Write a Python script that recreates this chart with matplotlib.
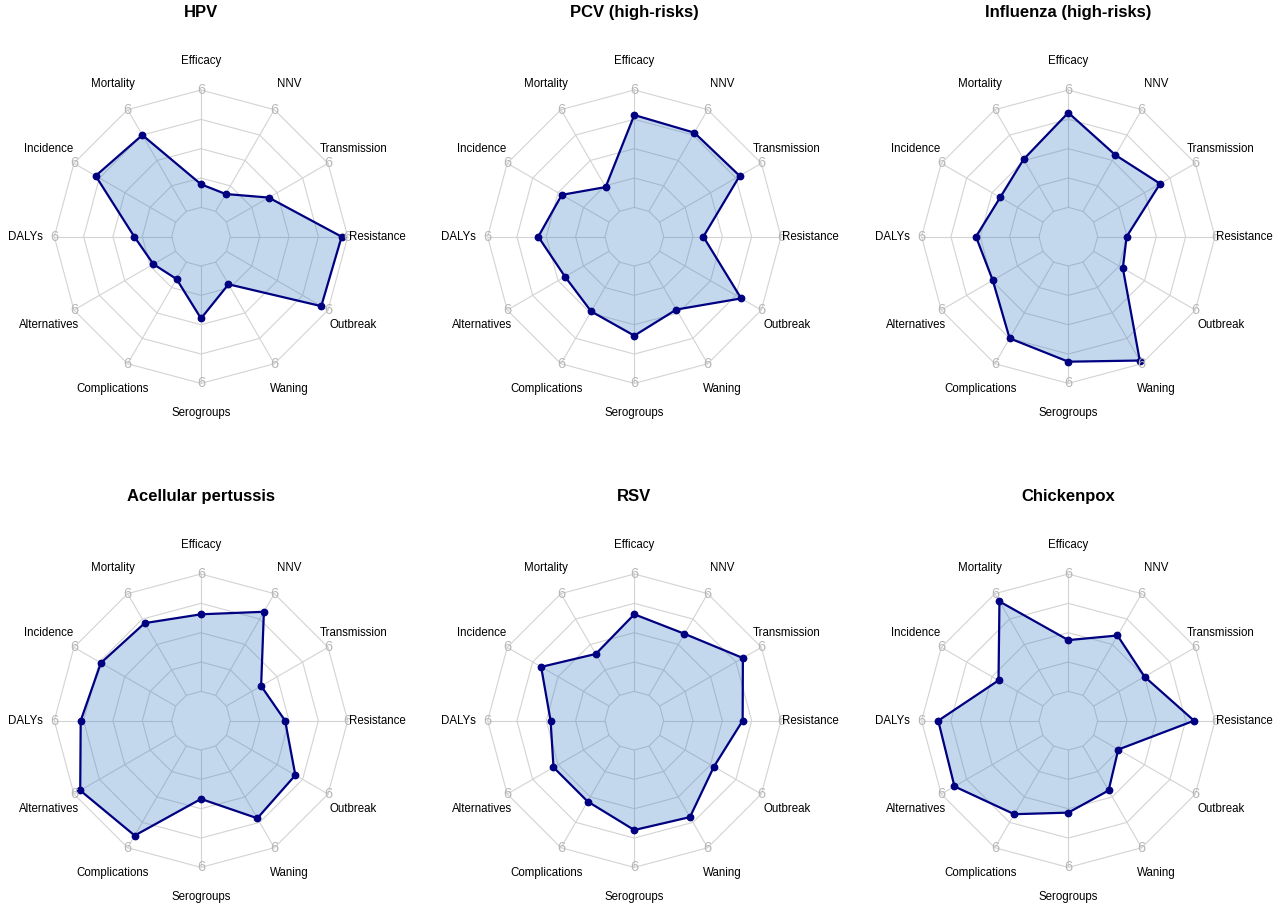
import numpy as np
import matplotlib
matplotlib.use("Agg")
import matplotlib.pyplot as plt

plt.rcParams['font.family'] = ['Liberation Sans', 'DejaVu Sans']

criteria = ["Efficacy", "NNV", "Transmission", "Resistance", "Outbreak", "Waning",
            "Serogroups", "Complications", "Alternatives", "DALYs", "Incidence", "Mortality"]

titles = ["HPV", "PCV (high-risks)", "Influenza (high-risks)",
          "Acellular pertussis", "RSV", "Chickenpox"]

hpv = [1.18, 1.02, 2.5, 5.69, 5.6, 1.31, 2.68, 1.0, 1.31, 1.91, 4.72, 4.5]
pcv = [4.72, 4.64, 4.72, 2.03, 4.81, 2.8, 3.56, 2.91, 2.59, 3.41, 2.78, 1.43]
influenza = [4.84, 3.32, 3.92, 1.48, 1.72, 5.81, 4.89, 4.5, 2.96, 3.22, 2.52, 3.07]
pertussis = [3.94, 4.93, 2.05, 2.8, 4.07, 4.26, 2.5, 5.28, 5.63, 4.65, 4.41, 4.26]
rsv = [3.94, 3.63, 4.91, 4.04, 3.2, 4.19, 4.09, 3.27, 3.27, 2.78, 4.0, 2.44]
chickenpox = [2.62, 3.53, 3.0, 4.93, 1.45, 2.62, 3.2, 4.02, 5.22, 5.15, 2.62, 5.54]

series = [hpv, pcv, influenza, pertussis, rsv, chickenpox]
vmin, vmax = 0, 6

W, H = 1280, 909
R = 146.7  # pixels for outer ring
centers = [(201, 236.7), (634.3, 236.7), (1068.3, 236.7),
           (201, 720.7), (634.3, 720.7), (1068.3, 720.7)]

fig = plt.figure(figsize=(W / 100, H / 100), dpi=100)

n = len(criteria)
ang = np.deg2rad(90 - 360 / n * np.arange(n))
ca, sa = np.cos(ang), np.sin(ang)

def rad(v):
    return 0.2 + 0.8 * (np.asarray(v) - vmin) / (vmax - vmin)

hw, hh = 1.45, 1.6
for (cx, cy), title, vals in zip(centers, titles, series):
    ax = fig.add_axes([(cx - hw * R) / W, (H - cy - hh * R) / H, 2 * hw * R / W, 2 * hh * R / H])
    ax.set_xlim(-hw, hw)
    ax.set_ylim(-hh, hh)
    ax.axis('off')

    # grid rings and spokes
    for lv in [0.2, 0.4, 0.6, 0.8, 1.0]:
        ax.plot(np.append(ca, ca[0]) * lv, np.append(sa, sa[0]) * lv,
                color='#d3d3d3', lw=0.8, zorder=1)
    for c, s in zip(ca, sa):
        ax.plot([0.2 * c, c], [0.2 * s, s], color='#d3d3d3', lw=0.8, zorder=1)

    r = rad(vals)
    x, y = r * ca, r * sa
    ax.fill(x, y, color='#3a7cc6', alpha=0.3, lw=0, zorder=2)
    ax.plot(np.append(x, x[0]), np.append(y, y[0]), color='#000080', lw=1.6, zorder=3)
    ax.plot(x, y, 'o', color='#000080', ms=4.6, zorder=4)

    for c, s, lab in zip(ca, sa, criteria):
        ax.text(c, s, str(vmax), color='#b8b8b8', fontsize=10.5,
                ha='center', va='center', zorder=5)
        ax.text(1.2 * c, 1.2 * s, lab, fontsize=8.3, ha='center', va='center', zorder=5)

    ax.text(0, 1.525, title, fontsize=12, fontweight='bold', ha='center', va='center')

fig.savefig("out.png", dpi=100)
